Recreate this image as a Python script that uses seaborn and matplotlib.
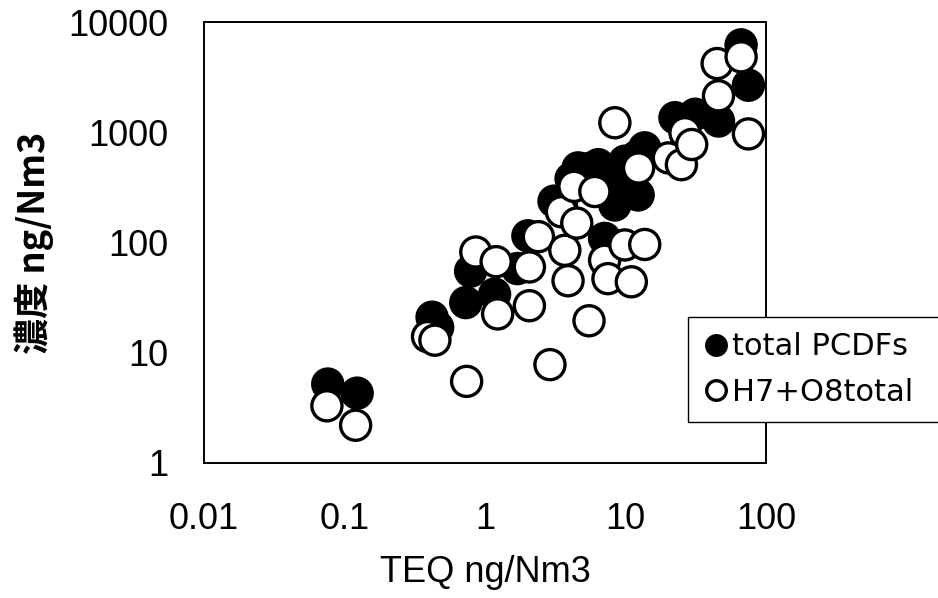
import matplotlib
matplotlib.use("Agg")
import matplotlib.pyplot as plt
import seaborn as sns
import pandas as pd

# TEQ (x) and concentration (y) for total PCDFs
pcdf_teq = [0.076, 0.123, 0.42, 0.46, 0.73, 0.79, 1.17, 1.7, 2.02, 3.1,
            3.5, 4.1, 4.6, 5.5, 6.4, 7.1, 8.4, 8.6, 9.9, 9.9,
            12.3, 13.7, 12.0, 22.5, 31.3, 45.9, 66.5, 75.0, 8.0]
pcdf_conc = [5.2, 4.3, 21, 17, 28.5, 55, 34, 58, 115, 237,
             219, 380, 475, 470, 508, 109, 219, 420, 311, 546,
             270, 722, 600, 1355, 1456, 1265, 6200, 2670, 330]

# TEQ (x) and concentration (y) for hepta + octa total
h7o8_teq = [0.075, 0.12, 0.39, 0.44, 0.74, 0.86, 1.2, 1.23, 2.07, 2.07,
            2.4, 2.9, 3.5, 3.7, 3.9, 4.3, 4.5, 5.5, 6.05, 7.1,
            7.5, 8.4, 9.9, 11.0, 12.4, 13.7, 20.2, 25.0, 26.5, 29.6,
            44.9, 45.9, 66.5, 75.0]
h7o8_conc = [3.3, 2.2, 14, 13, 5.5, 82, 67, 22.5, 26.7, 60,
             113, 7.8, 190, 85, 45, 323, 150, 19.5, 290, 69,
             47, 1220, 95, 44, 474, 96, 585, 508, 990, 774,
             4200, 2140, 4830, 966]

series_names = ["total PCDFs", "H7+O8total"]
x_ticks = [0.01, 0.1, 1, 10, 100]
x_tick_labels = ["0.01", "0.1", "1", "10", "100"]
y_ticks = [1, 10, 100, 1000, 10000]
y_tick_labels = ["1", "10", "100", "1000", "10000"]

df = pd.concat([
    pd.DataFrame({"TEQ": pcdf_teq, "conc": pcdf_conc, "series": series_names[0]}),
    pd.DataFrame({"TEQ": h7o8_teq, "conc": h7o8_conc, "series": series_names[1]}),
], ignore_index=True)

sns.set_theme(style="white")
plt.rcParams["font.family"] = ["Liberation Sans", "Noto Sans CJK JP", "DejaVu Sans"]
plt.rcParams["text.color"] = "black"

fig = plt.figure(figsize=(9.38, 5.98), dpi=100)
ax = fig.add_axes([204 / 938, 1 - 463 / 598, 562 / 938, 441 / 598])

sns.scatterplot(
    data=df, x="TEQ", y="conc", hue="series",
    palette={series_names[0]: "black", series_names[1]: "white"},
    edgecolor="black", linewidth=2.4, s=470, ax=ax, legend=True, zorder=3,
)

ax.set_xscale("log")
ax.set_yscale("log")
ax.set_xlim(0.01, 100)
ax.set_ylim(1, 10000)
ax.set_xticks(x_ticks)
ax.set_xticklabels(x_tick_labels)
ax.set_yticks(y_ticks)
ax.set_yticklabels(y_tick_labels)
ax.minorticks_off()
ax.tick_params(axis="both", which="major", direction="in", length=7, width=1,
               colors="black", labelsize=26)
ax.tick_params(axis="y", pad=26)
ax.tick_params(axis="x", pad=28)

for sp in ax.spines.values():
    sp.set_visible(True)
    sp.set_color("black")
    sp.set_linewidth(1.4)

ax.set_xlabel("TEQ ng/Nm3", fontsize=26, color="black", labelpad=13)
ax.set_ylabel("濃度 ng/Nm3", fontsize=26, color="black", fontweight="bold",
              family=["Noto Sans CJK JP", "DejaVu Sans"], labelpad=10)

handles, labels = ax.get_legend_handles_labels()
x0, y_top, y_bot = 688 / 938, 1 - 317 / 598, 1 - 419 / 598
ax.legend(handles, labels, loc="upper left", mode="expand",
          bbox_to_anchor=(x0, y_bot, 1.6 - x0, y_top - y_bot),
          bbox_transform=fig.transFigure,
          frameon=True, fancybox=False, edgecolor="black", framealpha=1,
          prop={"family": "DejaVu Sans", "size": 22}, labelcolor="black",
          markerscale=0.65, handletextpad=0.15, handlelength=0.8,
          borderpad=0.5, labelspacing=0.55, borderaxespad=0)
leg = ax.get_legend()
leg.get_frame().set_linewidth(1.0)

fig.savefig("out.png", dpi=100, facecolor="white")
